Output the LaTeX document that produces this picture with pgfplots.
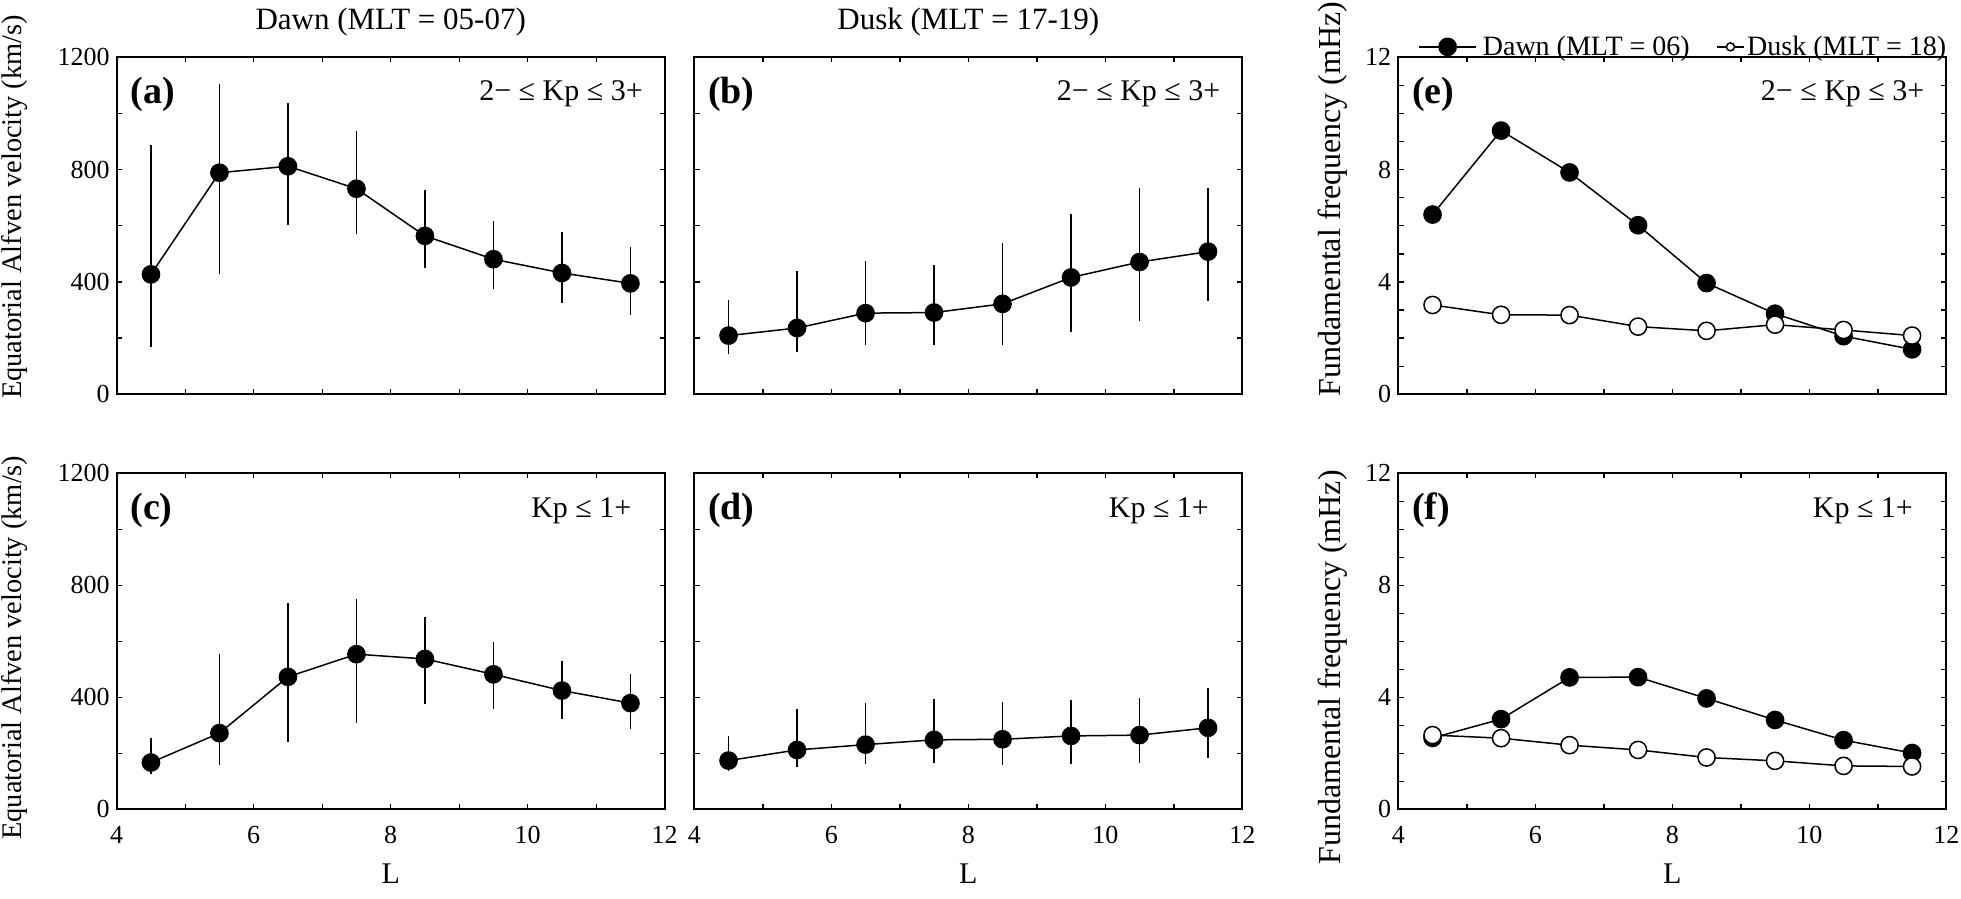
\documentclass[border=0pt]{standalone}
\usepackage{fontspec}
\setmainfont{Liberation Serif}
\usepackage{pgfplots}
\pgfplotsset{compat=1.18}
\usepackage{pgfplotstable}

% L, value, error plus, error minus
\pgfplotstableread{
L v ep em
4.5 427 462 257
5.5 789 315 362
6.5 812 227 210
7.5 732 206 163
8.5 564 162 116
9.5 481 136 106
10.5 432 145 108
11.5 395 129 112
}\dataA
\pgfplotstableread{
L v ep em
4.5 209 127 66
5.5 236 204 87
6.5 289 184 115
7.5 291 171 114
8.5 322 215 148
9.5 416 227 194
10.5 471 262 209
11.5 508 225 177
}\dataB
\pgfplotstableread{
L v ep em
4.5 167 87 41
5.5 272 281 115
6.5 473 265 233
7.5 554 198 247
8.5 537 148 161
9.5 482 115 123
10.5 424 104 100
11.5 379 103 93
}\dataC
\pgfplotstableread{
L v ep em
4.5 174 88 39
5.5 212 145 61
6.5 231 148 69
7.5 248 145 84
8.5 250 134 91
9.5 262 128 100
10.5 265 131 99
11.5 291 142 107
}\dataD
\pgfplotstableread{
L dawn dusk
4.5 6.40 3.18
5.5 9.39 2.83
6.5 7.90 2.82
7.5 6.02 2.41
8.5 3.96 2.26
9.5 2.87 2.48
10.5 2.07 2.29
11.5 1.60 2.09
}\dataE
\pgfplotstableread{
L dawn dusk
4.5 2.55 2.65
5.5 3.22 2.54
6.5 4.71 2.29
7.5 4.72 2.12
8.5 3.96 1.85
9.5 3.19 1.73
10.5 2.47 1.55
11.5 2.01 1.53
}\dataF

\pgfplotsset{
  panel/.style={
    scale only axis, width=274pt,
    xmin=4, xmax=12, xtick={4,6,8,10,12}, minor x tick num=1,
    tick align=inside, major tick length=2.6pt, minor tick length=2.6pt,
    axis line style={line width=1pt},
    every tick/.append style={black, line width=0.7pt},
    tick label style={font=\fontsize{13}{13}\selectfont},
    /pgf/number format/assume math mode=true,
    /pgf/number format/1000 sep={},
    scaled ticks=false,
    xticklabel style={yshift=-4.8pt},
    xlabel style={font=\fontsize{15}{15}\selectfont, at={(axis description cs:0.5,0)}, anchor=center, yshift=-32.3pt},
    title style={font=\fontsize{15.5}{15.5}\selectfont, at={(axis description cs:0.5,1)}, anchor=base, yshift=7.8pt, inner sep=0pt},
  },
  vel/.style={ymin=0, ymax=1200, ytick={0,400,800,1200}, minor y tick num=1},
  freq/.style={ymin=0, ymax=12, ytick={0,4,8,12}, minor y tick num=3},
  velplot/.style={black, line width=0.75pt, mark=*, mark size=4.3pt,
    error bars/.cd, y dir=both, y explicit, error mark=none,
    error bar style={line width=0.65pt}},
  dawnplot/.style={black, line width=0.75pt, mark=*, mark size=4.3pt, mark options={line width=0.75pt}},
  duskplot/.style={black, line width=0.75pt, mark=*, mark size=4.3pt, mark options={fill=white, line width=0.75pt}},
  dawnleg/.style={legend image code/.code={
    \draw[mark repeat=2, mark phase=2, ##1] plot coordinates {(0pt,0pt) (14.25pt,0pt) (28.5pt,0pt)};
    \path (31.5pt,0pt);}},
  duskleg/.style={legend image code/.code={
    \draw[mark repeat=2, mark phase=2, ##1, mark size=2pt] plot coordinates {(0pt,0pt) (6.5pt,0pt) (13.5pt,0pt)};
    \path (14.5pt,0pt);}},
}

\newcommand{\plab}[1]{\node[anchor=west, inner sep=0pt, font=\bfseries\fontsize{19}{19}\selectfont] at (rel axis cs:0,1) [xshift=6.65pt, yshift=-18.5pt] {#1};}
\newcommand{\kphigh}{\node[anchor=east, inner sep=0pt, font=\fontsize{15}{15}\selectfont] at (rel axis cs:1,1) [xshift=-10.8pt, yshift=-18pt] {2− ≤ Kp ≤ 3+};}
\newcommand{\kplow}{\node[anchor=east, inner sep=0pt, font=\fontsize{15}{15}\selectfont] at (rel axis cs:1,1) [xshift=-16.5pt, yshift=-18.5pt] {Kp ≤ 1+};}

\begin{document}
\begin{tikzpicture}
\useasboundingbox (0,0) rectangle (980.5pt,449.5pt);

% (a)
\begin{axis}[panel, vel, height=168.5pt, at={(58.35pt,252.35pt)}, anchor=south west,
  xticklabel=\empty,
  title={Dawn (MLT = 05-07)},
  ylabel={Equatorial Alfven velocity (km/s)},
  ylabel style={font=\fontsize{14.2}{14.2}\selectfont, at={(axis description cs:-0.1856,0.556)}, anchor=center}]
\addplot[velplot] table[x=L, y=v, y error plus=ep, y error minus=em] {\dataA};
\plab{(a)}
\kphigh
\end{axis}

% (b)
\begin{axis}[panel, vel, height=168.5pt, at={(347.15pt,252.35pt)}, anchor=south west,
  xticklabel=\empty, yticklabel=\empty,
  title={Dusk (MLT = 17-19)}]
\addplot[velplot] table[x=L, y=v, y error plus=ep, y error minus=em] {\dataB};
\plab{(b)}
\kphigh
\end{axis}

% (e)
\begin{axis}[panel, freq, height=168.5pt, at={(699.15pt,252.35pt)}, anchor=south west,
  xticklabel=\empty,
  ylabel={Fundamental frequency (mHz)},
  ylabel style={font=\fontsize{16}{16}\selectfont, at={(axis description cs:-0.1192,0.58)}, anchor=center},
  legend columns=2,
  legend cell align=left,
  legend style={at={(1,1)}, anchor=south east, draw=none, fill=none,
    inner sep=0pt, outer sep=0pt, column sep=0pt, yshift=-0.4pt,
    font=\fontsize{14}{14}\selectfont, nodes={inner sep=0pt},
    /tikz/every even column/.append style={column sep=13.5pt}}]
\addplot[dawnplot, dawnleg] table[x=L, y=dawn] {\dataE};
\addplot[duskplot, duskleg] table[x=L, y=dusk] {\dataE};
\legend{Dawn (MLT = 06), Dusk (MLT = 18)}
\plab{(e)}
\kphigh
\end{axis}

% (c)
\begin{axis}[panel, vel, height=168pt, at={(58.35pt,44.85pt)}, anchor=south west,
  xlabel={L},
  ylabel={Equatorial Alfven velocity (km/s)},
  ylabel style={font=\fontsize{14.2}{14.2}\selectfont, at={(axis description cs:-0.1856,0.481)}, anchor=center}]
\addplot[velplot] table[x=L, y=v, y error plus=ep, y error minus=em] {\dataC};
\plab{(c)}
\kplow
\end{axis}

% (d)
\begin{axis}[panel, vel, height=168pt, at={(347.15pt,44.85pt)}, anchor=south west,
  xlabel={L}, yticklabel=\empty]
\addplot[velplot] table[x=L, y=v, y error plus=ep, y error minus=em] {\dataD};
\plab{(d)}
\kplow
\end{axis}

% (f)
\begin{axis}[panel, freq, height=168pt, at={(699.15pt,44.85pt)}, anchor=south west,
  xlabel={L},
  ylabel={Fundamental frequency (mHz)},
  ylabel style={font=\fontsize{16}{16}\selectfont, at={(axis description cs:-0.1192,0.422)}, anchor=center}]
\addplot[dawnplot] table[x=L, y=dawn] {\dataF};
\addplot[duskplot] table[x=L, y=dusk] {\dataF};
\plab{(f)}
\kplow
\end{axis}
\end{tikzpicture}
\end{document}
